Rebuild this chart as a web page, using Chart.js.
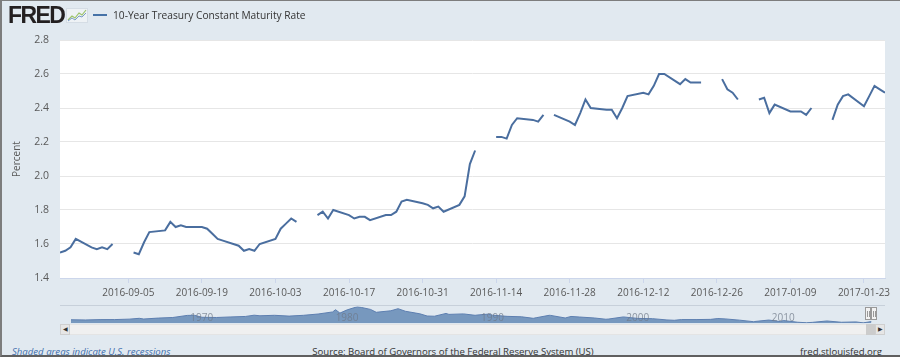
<!DOCTYPE html>
<html>
<head>
<meta charset="utf-8">
<script src="https://cdn.jsdelivr.net/npm/chart.js@4/dist/chart.umd.min.js"></script>
<style>
  html, body { margin: 0; padding: 0; }
  body { width: 900px; height: 357px; background: #e1e9f0; position: relative; overflow: hidden;
         font-family: 'Liberation Sans Narrow', 'Open Sans', sans-serif; }
  .abs { position: absolute; }
  #frame { left: 0; top: 0; width: 900px; height: 357px; box-sizing: border-box;
           border-top: 1px solid #7d7d7d; border-left: 2px solid #7d7d7d; border-bottom: 2px solid #5f5f5f; pointer-events: none; z-index: 10; }
  #logo { left: 8px; top: 1px; font-family: 'Liberation Sans', Arial, sans-serif; font-weight: bold; font-size: 23px;
          letter-spacing: -1.6px; color: #231f20; line-height: 28px; }
  #legline { left: 93px; top: 14px; width: 14px; height: 2px; background: #4572a7; }
  #legtext { left: 113px; top: 8px; font-size: 10.2px; color: #333; line-height: 14px; white-space: nowrap; }
  .foot { top: 345px; font-size: 9.6px; line-height: 14px; white-space: nowrap; }
  #navline { left: 60px; top: 305px; width: 825px; height: 1px; background: #c7d0da; }
  #track { left: 60px; top: 324px; width: 825px; height: 11px; background: #f0f0f0; box-sizing: border-box; border: 1px solid #e4e4e4; }
  .btn { top: 324px; width: 10px; height: 11px; background: #e6e6e6; box-sizing: border-box; border: 1px solid #cfcfcf;
         font-size: 6px; line-height: 9px; text-align: center; color: #333; }
  #thumb { left: 866px; top: 324px; width: 9px; height: 11px; background: #cccccc; }
  .handle { top: 307px; width: 6px; height: 13px; background: #f2f2f2; box-sizing: border-box; border: 1px solid #999; }
  .handle i { position: absolute; top: 3px; width: 1px; height: 6px; background: #999; }
</style>
</head>
<body>
<canvas id="main" class="abs" width="900" height="300" style="left:0;top:0;"></canvas>
<canvas id="nav" class="abs" width="900" height="30" style="left:0;top:300px;"></canvas>

<div id="logo" class="abs">FRED</div>
<svg class="abs" style="left:66px;top:8px" width="22" height="15" viewBox="0 0 22 15">
  <rect x="0.5" y="0.5" width="21" height="14" fill="#eef2f5" stroke="#d5dde5" stroke-width="1"/>
  <polyline points="2,12 6,8 9,10 13,5 16,7 20,2" fill="none" stroke="#9cc36b" stroke-width="1.2"/>
  <polyline points="2,13 6,10 9,12 13,8 16,9 20,5" fill="none" stroke="#7c9cc8" stroke-width="1"/>
</svg>
<div id="legline" class="abs"></div>
<div id="legtext" class="abs">10-Year Treasury Constant Maturity Rate</div>

<div id="navline" class="abs"></div>
<div id="track" class="abs"></div>
<div class="abs btn" style="left:60px">&#9664;</div>
<div class="abs btn" style="left:875px">&#9654;</div>
<div id="thumb" class="abs"></div>
<div class="abs handle" style="left:865px"><i style="left:1px"></i><i style="left:3px"></i></div>
<div class="abs handle" style="left:871px"><i style="left:1px"></i><i style="left:3px"></i></div>

<div class="abs foot" style="left:12px;color:#3f6fae;font-style:italic;">Shaded areas indicate U.S. recessions</div>
<div class="abs foot" style="left:0;width:906px;text-align:center;color:#333;">Source: Board of Governors of the Federal Reserve System (US)</div>
<div class="abs foot" style="right:18px;color:#333;">fred.stlouisfed.org</div>
<div id="frame" class="abs"></div>

<script>
// ---------- data ----------
const dates = [
  '2016-08-23','2016-08-24','2016-08-25','2016-08-26','2016-08-29','2016-08-30','2016-08-31',
  '2016-09-01','2016-09-02','2016-09-05','2016-09-06','2016-09-07','2016-09-08','2016-09-09',
  '2016-09-12','2016-09-13','2016-09-14','2016-09-15','2016-09-16','2016-09-19','2016-09-20',
  '2016-09-21','2016-09-22','2016-09-23','2016-09-26','2016-09-27','2016-09-28','2016-09-29',
  '2016-09-30','2016-10-03','2016-10-04','2016-10-05','2016-10-06','2016-10-07','2016-10-10',
  '2016-10-11','2016-10-12','2016-10-13','2016-10-14','2016-10-17','2016-10-18','2016-10-19',
  '2016-10-20','2016-10-21','2016-10-24','2016-10-25','2016-10-26','2016-10-27','2016-10-28',
  '2016-10-31','2016-11-01','2016-11-02','2016-11-03','2016-11-04','2016-11-07','2016-11-08',
  '2016-11-09','2016-11-10','2016-11-11','2016-11-14','2016-11-15','2016-11-16','2016-11-17',
  '2016-11-18','2016-11-21','2016-11-22','2016-11-23','2016-11-24','2016-11-25','2016-11-28',
  '2016-11-29','2016-11-30','2016-12-01','2016-12-02','2016-12-05','2016-12-06','2016-12-07',
  '2016-12-08','2016-12-09','2016-12-12','2016-12-13','2016-12-14','2016-12-15','2016-12-16',
  '2016-12-19','2016-12-20','2016-12-21','2016-12-22','2016-12-23','2016-12-26','2016-12-27',
  '2016-12-28','2016-12-29','2016-12-30','2017-01-02','2017-01-03','2017-01-04','2017-01-05',
  '2017-01-06','2017-01-09','2017-01-10','2017-01-11','2017-01-12','2017-01-13','2017-01-16',
  '2017-01-17','2017-01-18','2017-01-19','2017-01-20','2017-01-23','2017-01-24','2017-01-25',
  '2017-01-26','2017-01-27'
];
const rates = [
  1.55,1.56,1.58,1.63,1.58,1.57,1.58,
  1.57,1.60,null,1.55,1.54,1.61,1.67,
  1.68,1.73,1.70,1.71,1.70,1.70,1.69,
  1.66,1.63,1.62,1.59,1.56,1.57,1.56,
  1.60,1.63,1.69,1.72,1.75,1.73,null,
  1.77,1.79,1.75,1.80,1.77,1.75,1.76,
  1.76,1.74,1.77,1.77,1.79,1.85,1.86,
  1.84,1.83,1.81,1.82,1.79,1.83,1.88,
  2.07,2.15,null,2.23,2.23,2.22,2.30,
  2.34,2.33,2.32,2.36,null,2.36,2.32,
  2.30,2.37,2.45,2.40,2.39,2.39,2.34,
  2.40,2.47,2.49,2.48,2.53,2.60,2.60,
  2.54,2.57,2.55,2.55,2.55,null,2.57,
  2.51,2.49,2.45,null,2.45,2.46,2.37,
  2.42,2.38,2.38,2.38,2.36,2.40,null,
  2.33,2.42,2.47,2.48,2.41,2.47,2.53,
  2.51,2.49
];
const tickDates = ['2016-09-05','2016-09-19','2016-10-03','2016-10-17','2016-10-31','2016-11-14',
                   '2016-11-28','2016-12-12','2016-12-26','2017-01-09','2017-01-23'];
const xStart = '2016-08-23';
const xEnd = '2017-01-27';
const yTicks = [1.4, 1.6, 1.8, 2.0, 2.2, 2.4, 2.6, 2.8];

// navigator: long history of the same series (approximate)
const navYears = [1962,1963,1964,1965,1966,1966.7,1967,1968,1969,1970,1970.5,1971,1972,1973,1974,1974.6,
  1975,1976,1977,1978,1979,1980,1980.2,1980.5,1981,1981.7,1982,1982.6,1983,1984,1984.5,1985,1986,1986.5,
  1987,1987.8,1988,1989,1989.8,1990,1990.7,1991,1992,1993,1993.8,1994,1994.9,1995,1996,1996.4,1997,1998,
  1998.8,1999,2000,2001,2002,2003,2003.5,2004,2005,2006,2006.5,2007,2008,2008.95,2009,2010,2010.8,2011,
  2012,2012.6,2013,2014,2015,2016,2016.5,2017.07];
const navRates = [4.06,3.88,4.18,4.2,4.6,5.3,4.7,5.5,6.0,7.8,7.9,6.2,6.0,6.5,6.9,8.0,
  7.5,7.9,7.2,7.9,9.0,10.8,12.75,9.8,12.6,15.3,14.6,13.0,10.5,11.8,13.6,11.4,9.2,7.3,
  7.1,9.5,8.7,9.1,7.9,8.2,8.9,8.0,7.0,6.6,5.3,5.8,7.9,7.8,5.6,6.9,6.4,5.6,
  4.5,4.7,6.5,5.2,5.0,3.9,3.6,4.2,4.2,4.4,5.1,4.8,3.7,2.4,2.5,3.8,2.5,3.4,
  1.9,1.5,1.8,3.0,1.9,2.2,1.4,2.49];
const navLabels = [1970, 1980, 1990, 2000, 2010];

// ---------- helpers ----------
const dayNum = s => { const [y, m, d] = s.split('-').map(Number); return Date.UTC(y, m - 1, d) / 86400000; };
const FONT = "'Liberation Sans Narrow', 'Open Sans', sans-serif";

const whiteArea = {
  id: 'whiteArea',
  beforeDraw(chart) {
    const a = chart.chartArea, ctx = chart.ctx;
    ctx.save(); ctx.fillStyle = '#ffffff';
    ctx.fillRect(a.left, a.top, a.right - a.left, a.bottom - a.top);
    ctx.restore();
  }
};

new Chart(document.getElementById('main'), {
  type: 'line',
  data: {
    datasets: [{
      data: dates.map((d, i) => ({ x: dayNum(d), y: rates[i] })),
      borderColor: '#4a6e9f', borderWidth: 2, pointRadius: 0, fill: false,
      tension: 0, spanGaps: false
    }]
  },
  options: {
    responsive: false, animation: false, devicePixelRatio: 1,
    layout: { padding: { top: 40, right: 15, left: 0, bottom: 0 } },
    plugins: { legend: { display: false }, tooltip: { enabled: false } },
    scales: {
      x: {
        type: 'linear', min: dayNum(xStart), max: dayNum(xEnd),
        afterBuildTicks: s => { s.ticks = tickDates.map(d => ({ value: dayNum(d) })); },
        afterFit: s => { s.height = 22; },
        ticks: { autoSkip: false, maxRotation: 0, minRotation: 0, padding: 4, color: '#595959',
                 font: { family: FONT, size: 10 }, callback: (v, i) => tickDates[i] },
        grid: { drawOnChartArea: false, drawTicks: true, tickLength: 5, color: '#ccd6eb' },
        border: { display: true, color: '#ccd6eb' }
      },
      y: {
        min: yTicks[0], max: yTicks[yTicks.length - 1],
        afterBuildTicks: s => { s.ticks = yTicks.map(v => ({ value: v })); },
        afterFit: s => { s.width = 60; },
        ticks: { padding: 11, color: '#595959', font: { family: FONT, size: 10.5 },
                 callback: v => Number(v).toFixed(1) },
        grid: { color: '#e6e6e6', drawTicks: false },
        border: { display: false },
        title: { display: true, text: 'Percent', color: '#595959', padding: { top: 11, bottom: 0 },
                 font: { family: FONT, size: 10 } }
      }
    }
  },
  plugins: [whiteArea]
});

const navLabelPlugin = {
  id: 'navLabelPlugin',
  afterDatasetsDraw(chart) {
    const ctx = chart.ctx, xs = chart.scales.x;
    ctx.save();
    ctx.font = "10px " + FONT;
    ctx.fillStyle = 'rgba(110,120,135,0.75)';
    ctx.textAlign = 'left'; ctx.textBaseline = 'middle';
    navLabels.forEach(yr => ctx.fillText(String(yr), xs.getPixelForValue(yr) + 3, 18));
    ctx.restore();
  }
};

new Chart(document.getElementById('nav'), {
  type: 'line',
  data: {
    datasets: [{
      data: navYears.map((y, i) => ({ x: y, y: navRates[i] })),
      borderColor: '#5d7fb0', borderWidth: 1, backgroundColor: 'rgba(69,114,167,0.68)',
      fill: 'start', pointRadius: 0, tension: 0
    }]
  },
  options: {
    responsive: false, animation: false, devicePixelRatio: 1,
    layout: { padding: { left: 71, right: 28.5, top: 6.5, bottom: 6.7 } },
    plugins: { legend: { display: false }, tooltip: { enabled: false } },
    scales: {
      x: { type: 'linear', display: false, min: 1962, max: 2017.07 },
      y: { display: false, min: 1, max: 15.5 }
    }
  },
  plugins: [navLabelPlugin]
});
</script>
</body>
</html>
